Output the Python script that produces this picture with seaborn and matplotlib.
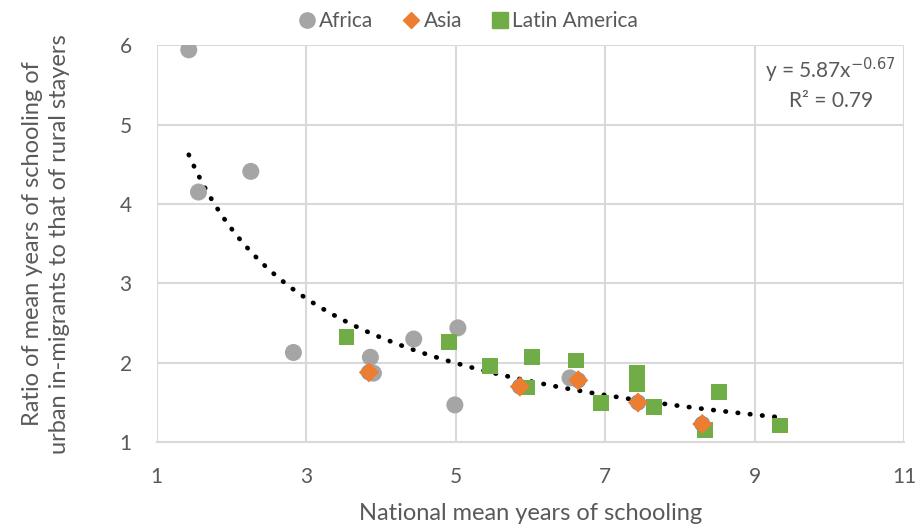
import numpy as np
import pandas as pd
import matplotlib
matplotlib.use("Agg")
import matplotlib.pyplot as plt
import seaborn as sns
from matplotlib.lines import Line2D

# dados
africa_x = [1.43, 1.56, 2.26, 2.83, 3.86, 3.90, 4.44, 5.03, 4.99, 6.53]
africa_y = [5.94, 4.15, 4.41, 2.13, 2.07, 1.87, 2.30, 2.44, 1.47, 1.81]

asia_x = [3.84, 5.86, 6.64, 7.44, 8.30]
asia_y = [1.88, 1.70, 1.78, 1.50, 1.23]

latam_x = [3.54, 4.91, 5.46, 6.02, 5.95, 6.61, 6.94, 7.43, 7.43, 7.65, 8.52, 8.34, 9.34]
latam_y = [2.33, 2.26, 1.96, 2.07, 1.69, 2.03, 1.49, 1.87, 1.73, 1.44, 1.63, 1.15, 1.21]

# ajuste potencia (linha de tendencia)
coef_a = 5.87
coef_b = -0.67
r2 = 0.79

df = pd.concat([
    pd.DataFrame({"x": africa_x, "y": africa_y, "Regiao": "Africa"}),
    pd.DataFrame({"x": asia_x, "y": asia_y, "Regiao": "Asia"}),
    pd.DataFrame({"x": latam_x, "y": latam_y, "Regiao": "Latin America"}),
])

sns.set_style("white")
plt.rcParams["font.family"] = ["Lato", "DejaVu Sans"]
cinza = "#595959"

fig = plt.figure(figsize=(9.16, 5.24), dpi=100)
ax = fig.add_axes([0.171, 0.156, 0.816, 0.758])

# linha de tendencia pontilhada
xs = np.linspace(min(df["x"]), max(df["x"]), 200)
ax.plot(xs, coef_a * xs ** coef_b, color="black", linestyle=(0, (0.1, 2.5)),
        linewidth=3.4, dash_capstyle="round", zorder=2)

cores = {"Africa": "#a5a5a5", "Asia": "#ed7d31", "Latin America": "#70ad47"}
marcas = {"Africa": "o", "Asia": "D", "Latin America": "s"}
tamanhos = {"Africa": 150, "Asia": 105, "Latin America": 130}

# circulo azul por baixo dos pontos da Asia (como no original)
asia = df[df["Regiao"] == "Asia"]
sns.scatterplot(data=asia, x="x", y="y", ax=ax, color="none", marker="o", s=105,
                edgecolor="#5b9bd5", linewidth=1.3, zorder=2.5, legend=False)

for reg in ["Africa", "Latin America", "Asia"]:
    sub = df[df["Regiao"] == reg]
    sns.scatterplot(data=sub, x="x", y="y", ax=ax, color=cores[reg],
                    marker=marcas[reg], s=tamanhos[reg], edgecolor="none",
                    zorder=3, legend=False)

ax.set_xlim(1, 11)
ax.set_ylim(1, 6)
ax.set_xticks([1, 3, 5, 7, 9, 11])
ax.set_yticks([1, 2, 3, 4, 5, 6])
ax.grid(True, color="#d9d9d9", linewidth=1.5)
ax.set_axisbelow(True)
for s in ["top", "right", "left"]:
    ax.spines[s].set_visible(False)
ax.spines["bottom"].set_color("#d9d9d9")
ax.spines["bottom"].set_linewidth(1.5)
ax.tick_params(axis="x", length=0, pad=18, labelsize=15, labelcolor=cinza)
ax.tick_params(axis="y", length=0, pad=18, labelsize=15, labelcolor=cinza)

ax.set_xlabel("National mean years of schooling", fontsize=17, color=cinza, labelpad=11)
ax.set_ylabel("Ratio of mean years of schooling of\nurban in-migrants to that of rural stayers",
              fontsize=17, color=cinza, labelpad=36, linespacing=1.35)

ax.text(10.02, 5.52, f"y = {coef_a}x$^{{{coef_b}}}$\nR² = {r2}", ha="center", va="center",
        fontsize=15, color=cinza, linespacing=1.35,
        bbox=dict(facecolor="white", edgecolor="none", pad=4))

# legenda
itens = [Line2D([], [], marker=marcas[r], color=cores[r], linestyle="none",
                markersize=11 if r != "Asia" else 8, label=r)
         for r in ["Africa", "Asia", "Latin America"]]
fig.legend(handles=itens, loc="upper center", bbox_to_anchor=(0.51, 1.015), ncol=3,
           frameon=False, fontsize=15, labelcolor=cinza, handletextpad=0.1,
           columnspacing=1.3, handlelength=1.0)

plt.savefig("out.png", dpi=100)
